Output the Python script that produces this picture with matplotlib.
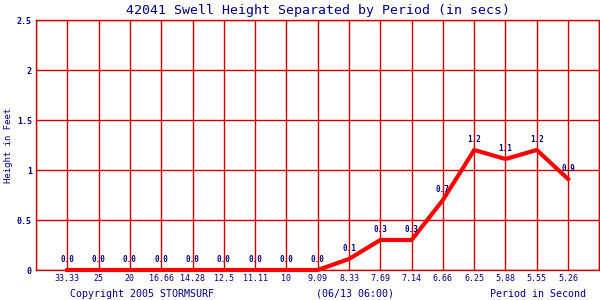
import matplotlib.pyplot as plt

# Period (secs) and swell height (ft)
periods = ['33.33', '25', '20', '16.66', '14.28', '12.5', '11.11', '10', '9.09',
           '8.33', '7.69', '7.14', '6.66', '6.25', '5.88', '5.55', '5.26']
heights = [0.0, 0.0, 0.0, 0.0, 0.0, 0.0, 0.0, 0.0, 0.0,
           0.11, 0.3, 0.3, 0.7, 1.2, 1.11, 1.2, 0.91]

navy = '#000080'
grid_red = '#cc0000'
plt.rcParams['font.family'] = ['DejaVu Sans Mono']

fig = plt.figure(figsize=(6, 3), dpi=100)
ax = fig.add_axes([0.06, 0.1, 0.939, 0.8333])

x = list(range(1, len(periods) + 1))
ax.plot(x, heights, color='#ff0000', linewidth=3, solid_joinstyle='miter', clip_on=False, zorder=3)

for xi, h in zip(x, heights):
    ax.annotate(f'{h:.1f}', (xi, h), xytext=(0, 4), textcoords='offset points',
                ha='center', va='bottom', fontsize=5.5, color=navy,
                fontweight='bold', zorder=4)

ax.set_xlim(0, 18)
ax.set_ylim(0, 2.5)
ax.set_xticks(range(0, len(periods) + 2))
ax.set_xticklabels([''] + periods + [''], fontsize=6, color=navy)
ax.set_yticks([0, 0.5, 1, 1.5, 2, 2.5])
ax.set_yticklabels(['0', '0.5', '1', '1.5', '2', '2.5'], fontsize=6, color=navy,
                   fontweight='bold')
ax.tick_params(length=0, pad=3)
ax.grid(True, color=grid_red, linewidth=1)
ax.set_axisbelow(True)
for s in ax.spines.values():
    s.set_color(grid_red)
    s.set_linewidth(1)

ax.set_title('42041 Swell Height Separated by Period (in secs)', fontsize=9.5, color=navy, pad=4)
ax.set_ylabel('Height in Feet', fontsize=6.5, color=navy, labelpad=3)

fig.text(0.117, 0.02, 'Copyright 2005 STORMSURF', fontsize=7.2, color=navy, ha='left', va='center')
fig.text(0.592, 0.02, '(06/13 06:00)', fontsize=7.2, color=navy, ha='center', va='center')
fig.text(0.977, 0.02, 'Period in Second', fontsize=7.2, color=navy, ha='right', va='center')

fig.savefig('out.png', dpi=100)
